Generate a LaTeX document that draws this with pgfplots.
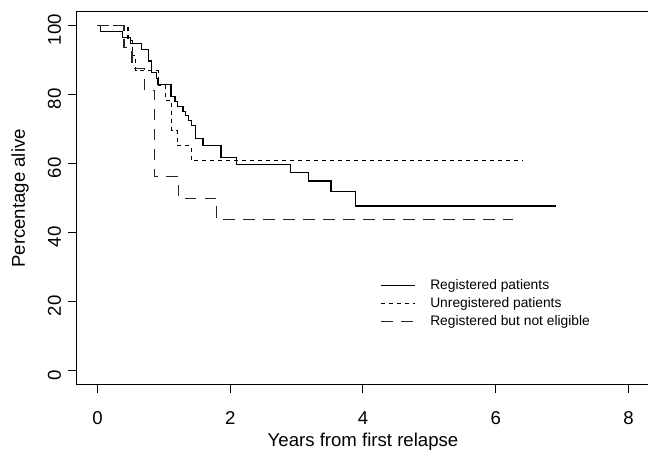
\documentclass[border=0pt]{standalone}
\usepackage{pgfplots}
\pgfplotsset{compat=1.18}
\usepackage{fontspec}
\setmainfont{Liberation Sans}

% survival steps (years, percent alive)
\pgfplotstableread{
t p
0 100
0.05 98.3
0.38 96.6
0.50 94.9
0.66 93.2
0.77 89.8
0.81 86.4
0.89 84.7
0.91 82.9
1.11 79.6
1.17 78.0
1.21 76.6
1.29 75.2
1.33 73.9
1.37 72.6
1.42 71.2
1.48 67.4
1.59 65.4
1.86 61.8
2.09 59.9
2.91 57.5
3.18 55.0
3.52 51.9
3.89 47.8
6.91 47.8
}\registered

\pgfplotstableread{
t p
0 100
0.46 95.65
0.53 91.3
0.58 86.96
0.92 82.61
1.03 78.26
1.12 69.57
1.20 65.22
1.41 60.87
6.41 60.87
}\unregistered

\pgfplotstableread{
t p
0 100
0.40 93.75
0.52 87.5
0.71 81.25
0.86 56.25
1.22 50
1.80 43.75
6.26 43.75
}\noteligible

\begin{document}
\begin{tikzpicture}
\begin{axis}[
    at={(0,0)}, anchor=south west,
    scale only axis,
    width=286.8pt, height=186.45pt,
    xmin=-0.32, xmax=8.32, ymin=-4, ymax=104,
    xtick={0,2,4,6,8}, ytick={0,20,40,60,80,100},
    tick align=outside, major tick length=4pt,
    xtick pos=bottom, ytick pos=left,
    axis line style={line width=0.5pt},
    tick style={line width=0.5pt, black},
    /pgf/number format/assume math mode=true,
    tick label style={font=\fontsize{9.3}{11}\selectfont},
    label style={font=\fontsize{9.3}{11}\selectfont},
    xticklabel style={yshift=-6pt},
    yticklabel style={rotate=90, anchor=south, xshift=-2pt},
    xlabel={Years from first relapse},
    ylabel={Percentage alive},
    xlabel style={at={(axis description cs:0.5,-0.152)}, anchor=center},
    ylabel style={at={(axis description cs:-0.098,0.5)}, anchor=center},
    legend cell align=left,
    legend image code/.code={\draw[#1] (0pt,0pt) -- (17pt,0pt);},
    legend style={draw=none, fill=none, inner sep=0pt,
        at={(rel axis cs:0.5296,0.2900)}, anchor=north west,
        font=\fontsize{6.9}{8}\selectfont,
        nodes={inner sep=1pt, text height=5pt, text depth=1.5pt},
        row sep=0.5pt,
        /tikz/every odd column/.append style={column sep=6.3pt}},
]
\addplot[const plot, black, line width=0.65pt] table[x=t, y=p] {\registered};
\addlegendentry{Registered patients}
\addplot[const plot, black, line width=0.55pt, dash pattern=on 2pt off 2pt] table[x=t, y=p] {\unregistered};
\addlegendentry{Unregistered patients}
\addplot[const plot, black!85, line width=0.55pt, dash pattern=on 5.8pt off 4.2pt] table[x=t, y=p] {\noteligible};
\addlegendentry{Registered but not eligible}
\end{axis}
\pgfresetboundingbox
\path[use as bounding box] (-38.1pt,-33.6pt) rectangle (285.9pt,192.4pt);
\end{tikzpicture}
\end{document}
